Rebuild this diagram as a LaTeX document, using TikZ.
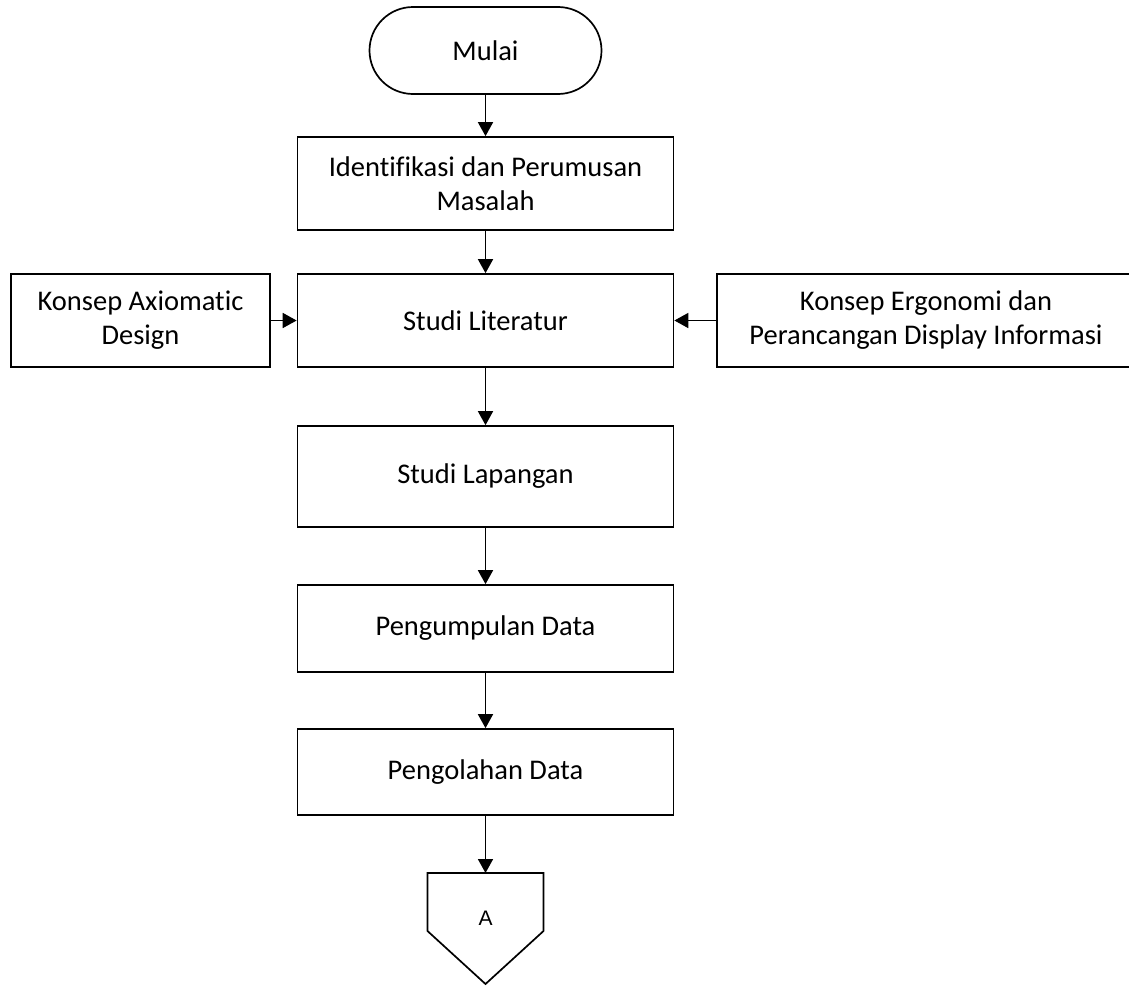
\documentclass[tikz,border=0pt]{standalone}
\usepackage{fontspec}
\setmainfont{Carlito}[Ligatures={NoCommon}]
\newfontfamily\arialfont{Liberation Sans}
\usetikzlibrary{arrows.meta}
\begin{document}
\begin{tikzpicture}[x=1pt,y=-1pt,line width=1.7pt,
  every node/.style={font=\fontsize{28.5}{34}\selectfont},
  box/.style={draw,rectangle,minimum width=376pt,minimum height=93pt,align=center,inner sep=0pt},
  arr/.style={-{Triangle[length=14pt,width=15pt]}}]
\useasboundingbox (0,0) rectangle (1129,985);
\node[draw,rounded corners=43.5pt,minimum width=232pt,minimum height=87pt,inner sep=0pt] (mulai) at (485.5,50.5) {Mulai};
\node[box] (ident) at (485.5,183.5) {Identifikasi dan Perumusan\\Masalah};
\node[box] (lit) at (485.5,320.5) {Studi Literatur};
\node[box,minimum width=259pt] (axi) at (140.5,320.5) {Konsep Axiomatic\\Design};
\node[box,minimum width=418pt] (ergo) at (926,320.5) {Konsep Ergonomi dan\\Perancangan Display Informasi};
\node[box,minimum height=101pt] (lap) at (485.5,476.5) {Studi Lapangan};
\node[box,minimum height=87pt] (kumpul) at (485.5,628.5) {Pengumpulan Data};
\node[box,minimum height=86pt] (olah) at (485.5,772) {Pengolahan Data};
\draw (427.5,873) -- (543.5,873) -- (543.5,931) -- (485.5,984) -- (427.5,931) -- cycle;
\coordinate (atop) at (485.5,873);
\node[font=\arialfont\fontsize{21}{25}\selectfont] (a) at (485.5,918) {A};
\draw[arr] (mulai.south) -- (ident.north);
\draw[arr] (ident.south) -- (lit.north);
\draw[arr] (axi.east) -- (lit.west);
\draw[arr] (ergo.west) -- (lit.east);
\draw[arr] (lit.south) -- (lap.north);
\draw[arr] (lap.south) -- (kumpul.north);
\draw[arr] (kumpul.south) -- (olah.north);
\draw[arr] (olah.south) -- (atop);
\end{tikzpicture}
\end{document}
